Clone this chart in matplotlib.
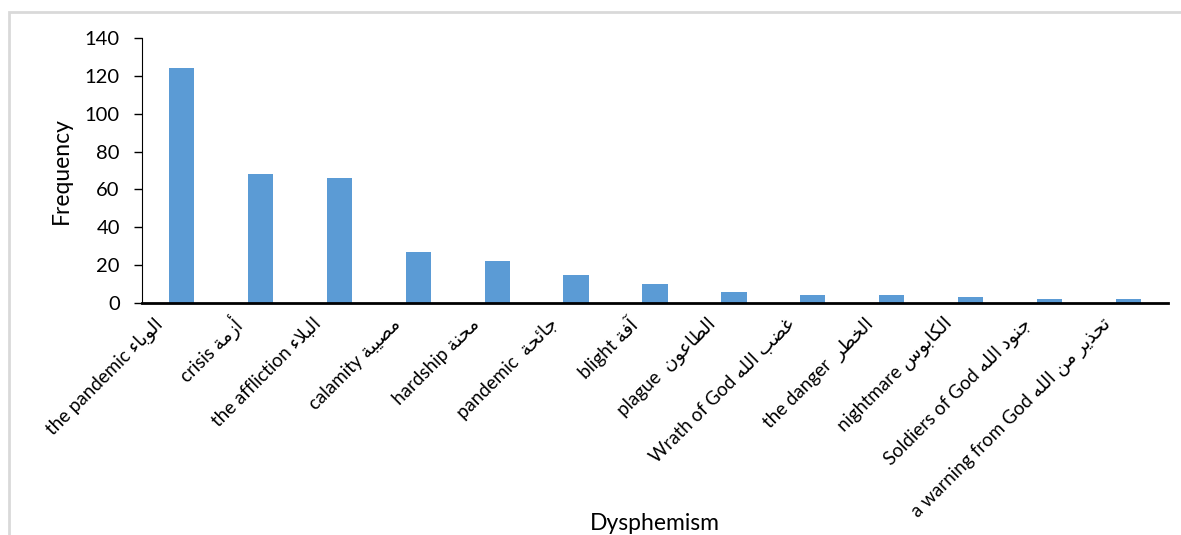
import matplotlib
matplotlib.use('Agg')
import matplotlib.pyplot as plt
from matplotlib.patches import Rectangle
from matplotlib.transforms import ScaledTranslation

#-----------------------------------------------------------------
#---                          Data                             ---
#-----------------------------------------------------------------
english = ['the pandemic', 'crisis', 'the affliction', 'calamity', 'hardship',
           'pandemic ', 'blight', 'plague ', 'Wrath of God', 'the danger ',
           'nightmare', 'Soldiers of God', 'a warning from God']
arabic = ['الوباء', 'أزمة', 'البلاء', 'مصيبة', 'محنة', 'جائحة', 'آفة',
          'الطاعون', 'غضب الله', 'الخطر', 'الكابوس', 'جنود الله', 'تحذير من الله']
frequency = [124, 68, 66, 27, 22, 15, 10, 6, 4, 4, 3, 2, 2]
yticks = [0, 20, 40, 60, 80, 100, 120, 140]

#-----------------------------------------------------------------
#---       Minimal Arabic shaping (no reshaper available)      ---
#-----------------------------------------------------------------
# letter -> (first presentation form, number of forms)
FORMS = {
    'ء': (0xFE80, 1), 'آ': (0xFE81, 2), 'أ': (0xFE83, 2), 'ؤ': (0xFE85, 2),
    'إ': (0xFE87, 2), 'ئ': (0xFE89, 4), 'ا': (0xFE8D, 2), 'ب': (0xFE8F, 4),
    'ة': (0xFE93, 2), 'ت': (0xFE95, 4), 'ث': (0xFE99, 4), 'ج': (0xFE9D, 4),
    'ح': (0xFEA1, 4), 'خ': (0xFEA5, 4), 'د': (0xFEA9, 2), 'ذ': (0xFEAB, 2),
    'ر': (0xFEAD, 2), 'ز': (0xFEAF, 2), 'س': (0xFEB1, 4), 'ش': (0xFEB5, 4),
    'ص': (0xFEB9, 4), 'ض': (0xFEBD, 4), 'ط': (0xFEC1, 4), 'ظ': (0xFEC5, 4),
    'ع': (0xFEC9, 4), 'غ': (0xFECD, 4), 'ف': (0xFED1, 4), 'ق': (0xFED5, 4),
    'ك': (0xFED9, 4), 'ل': (0xFEDD, 4), 'م': (0xFEE1, 4), 'ن': (0xFEE5, 4),
    'ه': (0xFEE9, 4), 'و': (0xFEED, 2), 'ى': (0xFEEF, 2), 'ي': (0xFEF1, 4),
}
LAM_ALEF = {'ا': 0xFEFB, 'أ': 0xFEF7, 'آ': 0xFEF5, 'إ': 0xFEF9}


def shape(word):
    out = []
    i = 0
    n = len(word)
    while i < n:
        c = word[i]
        if c not in FORMS:
            out.append(c)
            i += 1
            continue
        prev = word[i - 1] if i > 0 else ' '
        joins_prev = prev in FORMS and FORMS[prev][1] == 4
        if c == 'ل' and i + 1 < n and word[i + 1] in LAM_ALEF:
            out.append(chr(LAM_ALEF[word[i + 1]] + (1 if joins_prev else 0)))
            i += 2
            continue
        base, nf = FORMS[c]
        nxt = word[i + 1] if i + 1 < n else ' '
        joins_next = nf == 4 and nxt in FORMS and FORMS[nxt][1] > 1
        if nf == 1:
            form = 0
        elif joins_prev and joins_next:
            form = 3
        elif joins_prev:
            form = 1
        elif joins_next:
            form = 2
        else:
            form = 0
        out.append(chr(base + form))
        i += 1
    return ''.join(out)[::-1]


labels = [e + ' ' + shape(a) for e, a in zip(english, arabic)]

#-----------------------------------------------------------------
#---                          Plot                             ---
#-----------------------------------------------------------------
plt.rcParams['font.family'] = ['Lato', 'DejaVu Sans']
fig = plt.figure(figsize=(11.81, 5.35), dpi=100)
ax = fig.add_axes([142 / 1181, 1 - 303 / 535, (1168 - 142) / 1181, 265 / 535])

x = list(range(len(frequency)))
ax.bar(x, frequency, width=0.32, color='#5B9BD5')
ax.set_xlim(-0.5, len(frequency) - 0.5)
ax.set_ylim(0, 140)
ax.set_yticks(yticks)
ax.tick_params(axis='y', labelsize=14.5, length=6, width=1, pad=10)
ax.tick_params(axis='x', length=0, pad=8)
ax.set_xticks(x)
ax.set_xticklabels(labels, rotation=45, ha='right', va='center',
                   rotation_mode='anchor', fontsize=13.5)
shift = ScaledTranslation(-0.21, -0.07, fig.dpi_scale_trans)
for lbl in ax.get_xticklabels():
    lbl.set_transform(lbl.get_transform() + shift)
ax.spines['top'].set_visible(False)
ax.spines['right'].set_visible(False)
ax.spines['bottom'].set_linewidth(2)
ax.set_ylabel('Frequency', fontsize=16.5)
ax.yaxis.set_label_coords(-70 / 1026, 0.5)
fig.text(655 / 1181, 1 - 523 / 535, 'Dysphemism', fontsize=16.5,
         ha='center', va='center')

# light grey chart border (right and bottom edges fall off the image)
fig.patches.append(Rectangle((9 / 1181, -0.1), 1.2, 1 - 12 / 535 + 0.1,
                             transform=fig.transFigure, fill=False,
                             edgecolor='#D9D9D9', linewidth=2))

fig.savefig('out.png', dpi=100)
plt.close()
